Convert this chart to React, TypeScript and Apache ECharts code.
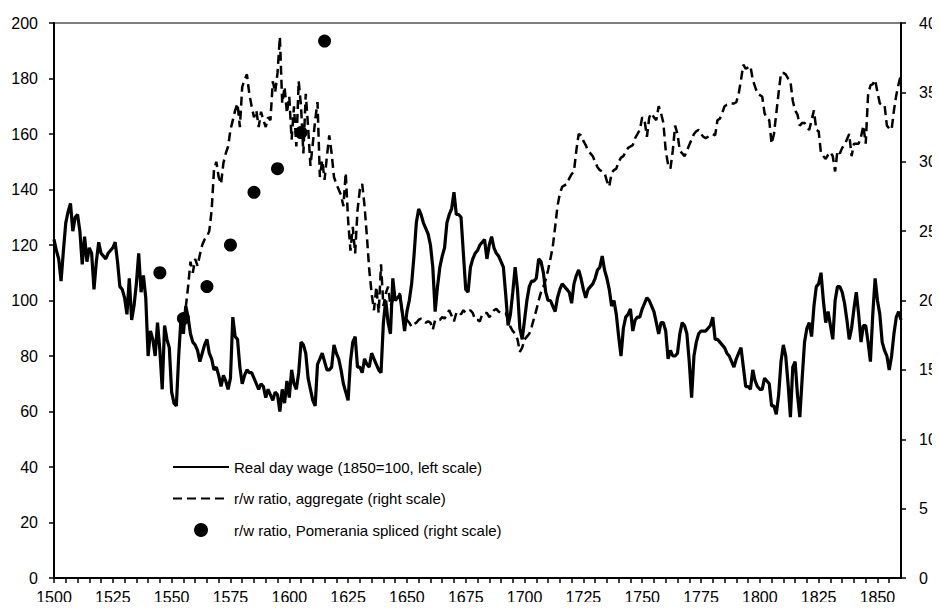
import React, { useEffect, useRef } from "react";
import * as echarts from "echarts";

const START_YEAR = 1500;
const X_MIN = 1500;
const X_MAX = 1860;

// Real day wage (1850=100), annual 1500..1860, left scale
const wageValues: number[] = [
  122, 118, 115, 107, 118, 128, 132, 135, 125, 130, // 1500-1509
  131, 125, 113, 123, 114, 119, 117, 104, 114, 121, // 1510-1519
  117, 116, 115, 117, 118, 119, 121, 114, 105, 104, // 1520-1529
  101, 95, 108, 93, 98, 106, 117, 103, 109, 101, // 1530-1539
  80, 89, 86, 80, 92, 82, 68, 91, 86, 83, // 1540-1549
  67, 63, 62, 80, 94, 88, 98, 94, 88, 85, // 1550-1559
  84, 82, 78, 81, 84, 86, 81, 79, 75, 76, // 1560-1569
  73, 69, 73, 71, 68, 72, 94, 87, 86, 76, // 1570-1579
  70, 73, 75, 74, 74, 72, 70, 68, 70, 69, // 1580-1589
  65, 68, 66, 64, 67, 66, 60, 68, 63, 71, // 1590-1599
  65, 75, 70, 68, 74, 85, 84, 81, 72, 68, // 1600-1609
  64, 62, 77, 79, 81, 78, 75, 75, 76, 84, // 1610-1619
  81, 79, 75, 70, 67, 64, 78, 85, 87, 76, // 1620-1629
  76, 74, 79, 77, 76, 81, 79, 77, 75, 74, // 1630-1639
  92, 100, 92, 88, 108, 100, 101, 102, 96, 89, // 1640-1649
  96, 100, 106, 116, 128, 133, 131, 128, 126, 124, // 1650-1659
  120, 112, 96, 105, 112, 116, 119, 128, 131, 133, // 1660-1669
  139, 131, 131, 130, 117, 104, 103, 112, 115, 117, // 1670-1679
  118, 120, 121, 122, 115, 120, 123, 119, 117, 116, // 1680-1689
  114, 112, 102, 91, 95, 103, 112, 104, 90, 86, // 1690-1699
  93, 100, 105, 107, 107, 108, 115, 114, 110, 103, // 1700-1709
  100, 100, 98, 96, 101, 104, 106, 105, 104, 103, // 1710-1719
  99, 106, 109, 111, 108, 104, 101, 104, 105, 106, // 1720-1729
  108, 111, 112, 116, 111, 108, 104, 98, 100, 95, // 1730-1739
  87, 80, 90, 94, 95, 97, 89, 93, 94, 94, // 1740-1749
  97, 99, 101, 100, 98, 96, 92, 88, 92, 92, // 1750-1759
  89, 79, 82, 80, 80, 81, 88, 92, 91, 88, // 1760-1769
  78, 65, 80, 85, 88, 89, 89, 89, 90, 91, // 1770-1779
  94, 86, 86, 85, 84, 83, 81, 80, 78, 76, // 1780-1789
  79, 81, 83, 76, 69, 69, 68, 75, 71, 69, // 1790-1799
  68, 68, 72, 71, 70, 62, 62, 59, 66, 78, // 1800-1809
  84, 80, 70, 58, 76, 78, 66, 58, 72, 85, // 1810-1819
  90, 92, 87, 98, 105, 106, 110, 100, 92, 96, // 1820-1829
  91, 86, 100, 105, 105, 103, 99, 93, 86, 90, // 1830-1839
  97, 103, 95, 85, 91, 91, 85, 78, 95, 108, // 1840-1849
  100, 95, 85, 82, 80, 75, 80, 88, 94, 96, // 1850-1859
  93, // 1860
];

// r/w ratio, aggregate, annual 1556..1860, right scale
const RW_START_YEAR = 1556;
const rwAggregate: number[] = [
  19.5, 21.0, 22.8, 22.0, // 1556-1559
  23.0, 22.5, 23.3, 24.0, 24.4, 24.6, 25.0, 26.5, 29.4, 30.0, // 1560-1569
  28.9, 28.4, 29.9, 30.6, 31.1, 32.3, 33.0, 33.7, 34.2, 32.5, // 1570-1579
  35.4, 35.9, 36.3, 34.9, 34.0, 33.2, 33.7, 32.5, 33.6, 33.0, // 1580-1589
  32.5, 33.2, 33.0, 35.8, 35.0, 36.4, 39.0, 34.2, 35.4, 33.5, // 1590-1599
  34.7, 31.6, 34.0, 31.1, 35.8, 34.0, 30.6, 34.9, 32.5, 29.7, // 1600-1609
  31.3, 33.0, 34.3, 28.9, 30.1, 28.7, 30.4, 31.9, 30.6, 28.9, // 1610-1619
  28.4, 28.0, 27.6, 26.8, 29.2, 25.8, 23.6, 25.3, 23.4, 26.5, // 1620-1629
  28.0, 28.4, 26.8, 24.6, 22.2, 20.5, 19.3, 21.0, 19.1, 22.6, // 1630-1639
  19.6, 20.5, 21.0, 19.6, 20.0, 20.2, 20.4, 20.5, 19.1, 18.8, // 1640-1649
  18.6, 18.4, 18.1, 18.3, 18.4, 18.6, 18.7, 18.5, 18.4, 18.5, // 1650-1659
  18.4, 17.9, 18.6, 18.6, 18.6, 18.8, 18.7, 19.0, 19.3, 18.9, // 1660-1669
  18.5, 19.1, 19.2, 19.0, 19.3, 19.1, 19.2, 19.3, 19.1, 18.6, // 1670-1679
  18.6, 18.5, 19.0, 19.1, 19.1, 18.8, 19.0, 19.3, 19.4, 19.2, // 1680-1689
  19.1, 19.1, 19.1, 18.6, 18.1, 17.8, 17.6, 17.2, 16.3, 16.6, // 1690-1699
  17.2, 17.4, 17.6, 18.1, 18.7, 19.3, 20.0, 20.6, 21.0, 21.5, // 1700-1709
  22.2, 23.0, 23.9, 25.3, 26.8, 27.7, 28.2, 28.3, 28.4, 28.8, // 1710-1719
  29.1, 29.3, 30.8, 32.0, 31.9, 31.5, 31.2, 30.8, 30.6, 30.4, // 1720-1729
  30.0, 29.6, 29.4, 29.3, 29.2, 28.6, 28.2, 29.2, 29.4, 29.5, // 1730-1739
  30.0, 30.3, 30.4, 30.7, 31.0, 31.1, 31.2, 31.7, 32.0, 32.3, // 1740-1749
  33.2, 33.0, 31.8, 33.2, 33.5, 33.2, 33.0, 34.0, 33.5, 32.8, // 1750-1759
  30.8, 29.8, 29.5, 30.8, 32.6, 32.0, 30.8, 30.6, 30.4, 30.8, // 1760-1769
  31.2, 31.6, 32.0, 32.2, 32.3, 32.0, 31.8, 31.7, 31.8, 31.9, // 1770-1779
  32.0, 31.9, 33.0, 33.1, 33.5, 34.0, 34.1, 34.1, 34.2, 34.2, // 1780-1789
  34.3, 34.9, 35.9, 37.0, 36.7, 36.8, 36.9, 35.9, 35.4, 34.9, // 1790-1799
  34.8, 34.7, 33.5, 33.1, 33.0, 31.3, 32.0, 33.5, 35.0, 36.4, // 1800-1809
  36.4, 36.3, 36.0, 35.8, 34.4, 33.7, 33.4, 32.6, 32.8, 32.8, // 1810-1819
  32.5, 32.3, 33.0, 33.7, 32.3, 32.2, 30.6, 30.4, 30.2, 30.5, // 1820-1829
  30.7, 30.4, 29.3, 30.8, 30.6, 31.0, 31.2, 31.6, 32.0, 30.4, // 1830-1839
  31.3, 31.3, 31.3, 31.8, 32.6, 31.3, 34.8, 35.5, 35.6, 35.9, // 1840-1849
  35.0, 34.2, 34.1, 34.1, 32.6, 32.4, 32.3, 33.7, 34.8, 35.6, // 1850-1859
  36.3, // 1860
];

// r/w ratio, Pomerania spliced (right scale)
const pomeraniaYears: number[] = [1545, 1555, 1565, 1575, 1585, 1595, 1605, 1615];
const pomeraniaValues: number[] = [22.0, 18.7, 21.0, 24.0, 27.8, 29.5, 32.1, 38.7];

const seriesNames = [
  "Real day wage (1850=100, left scale)",
  "r/w ratio, aggregate (right scale)",
  "r/w ratio, Pomerania spliced (right scale)",
];

const FONT = "'Liberation Sans', Arial, sans-serif";

export default function App() {
  const ref = useRef<HTMLDivElement>(null);

  useEffect(() => {
    if (!ref.current) return;
    const chart = echarts.init(ref.current, undefined, { renderer: "svg" });

    const wageData = wageValues.map((v, i) => [START_YEAR + i, v]);
    const rwData = rwAggregate.map((v, i) => [RW_START_YEAR + i, v]);
    const pomData = pomeraniaYears.map((y, i) => [y, pomeraniaValues[i]]);

    const axisLabelStyle = { color: "#000", fontFamily: FONT, fontSize: 16 };
    const hiddenSymbol = { color: "rgba(0,0,0,0)", borderColor: "rgba(0,0,0,0)", borderWidth: 0 };

    chart.setOption({
      animation: false,
      backgroundColor: "#fff",
      textStyle: { fontFamily: FONT, color: "#000" },
      grid: {
        left: 54,
        right: 39,
        top: 23,
        bottom: 32,
        show: true,
        borderColor: "#000",
        borderWidth: 1,
        backgroundColor: "transparent",
      },
      legend: {
        orient: "vertical",
        left: 172,
        top: 459,
        padding: 0,
        itemWidth: 56,
        itemHeight: 14,
        itemGap: 15.5,
        textStyle: { fontFamily: FONT, fontSize: 15, color: "#000", lineHeight: 16 },
        data: [
          { name: seriesNames[0], itemStyle: hiddenSymbol },
          { name: seriesNames[1], itemStyle: hiddenSymbol },
          { name: seriesNames[2], itemStyle: { color: "#000", opacity: 1 } },
        ],
      },
      xAxis: {
        type: "value",
        min: X_MIN,
        max: X_MAX,
        interval: 5,
        axisLine: { show: true, onZero: false, lineStyle: { color: "#000", width: 2 } },
        axisTick: { show: true, inside: false, length: 5, lineStyle: { color: "#000", width: 1.5 } },
        splitLine: { show: false },
        axisLabel: {
          ...axisLabelStyle,
          margin: 11,
          showMaxLabel: false,
          formatter: (v: number) => (v % 25 === 0 && v <= 1850 ? String(v) : ""),
        },
      },
      yAxis: [
        {
          type: "value",
          position: "left",
          min: 0,
          max: 200,
          interval: 20,
          axisLine: { show: true, lineStyle: { color: "#000", width: 2 } },
          axisTick: { show: true, inside: false, length: 5, lineStyle: { color: "#000", width: 1.5 } },
          splitLine: { show: false },
          axisLabel: { ...axisLabelStyle, margin: 16 },
        },
        {
          type: "value",
          position: "right",
          min: 0,
          max: 40,
          interval: 5,
          axisLine: { show: true, lineStyle: { color: "#000", width: 2 } },
          axisTick: { show: true, inside: false, length: 5, lineStyle: { color: "#000", width: 1.5 } },
          splitLine: { show: false },
          axisLabel: { ...axisLabelStyle, margin: 18 },
        },
      ],
      series: [
        {
          name: seriesNames[1],
          type: "line",
          yAxisIndex: 1,
          data: rwData,
          symbol: "none",
          showSymbol: false,
          lineStyle: { color: "#000", width: 2.5, type: [9, 5] },
          itemStyle: { color: "#000" },
          z: 2,
        },
        {
          name: seriesNames[0],
          type: "line",
          yAxisIndex: 0,
          data: wageData,
          symbol: "none",
          showSymbol: false,
          lineStyle: { color: "#000", width: 3.2 },
          itemStyle: { color: "#000" },
          z: 3,
        },
        {
          name: seriesNames[2],
          type: "scatter",
          yAxisIndex: 1,
          data: pomData,
          symbol: "circle",
          symbolSize: 13,
          itemStyle: { color: "#000", opacity: 1 },
          z: 4,
        },
      ],
    });

    return () => chart.dispose();
  }, []);

  return <div ref={ref} style={{ width: 940, height: 610, margin: -8 }} />;
}
